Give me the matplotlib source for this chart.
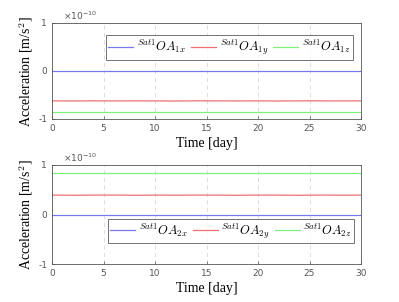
import numpy as np
import matplotlib.pyplot as plt

plt.rcParams['mathtext.fontset'] = 'cm'

# time axis (days) and accelerations, units of 1e-10 m/s^2
t = [0, 2, 4, 6, 8, 10, 12, 14, 16, 18, 20, 22, 24, 26, 28, 30]
a1x = [0.0] * len(t)
a1y = [-0.622, -0.625, -0.621, -0.624, -0.622, -0.623, -0.625, -0.621, -0.622, -0.624, -0.622, -0.625, -0.622, -0.621, -0.624, -0.622]
a1z = [-0.85] * len(t)
a2x = [0.0] * len(t)
a2y = [0.392, 0.389, 0.391, 0.393, 0.389, 0.391, 0.39, 0.392, 0.391, 0.389, 0.392, 0.391, 0.389, 0.392, 0.39, 0.391]
a2z = [0.83] * len(t)

scale = 1e-10
xticks = [0, 5, 10, 15, 20, 25, 30]

fig = plt.figure(figsize=(3.99, 3.02), dpi=100)
ax1 = fig.add_axes([52 / 399, 1 - 119 / 302, 309 / 399, 96 / 302])
ax2 = fig.add_axes([52 / 399, 1 - 264 / 302, 309 / 399, 99 / 302])

cols = ['#7878f0', '#f07070', '#80f080']

for ax, data, idx in [(ax1, (a1x, a1y, a1z), 1), (ax2, (a2x, a2y, a2z), 2)]:
    for d, c, comp in zip(data, cols, 'xyz'):
        ax.plot(t, np.array(d) * scale, color=c, lw=0.9,
                label=r'$^{Sat1}OA_{%d%s}$' % (idx, comp))
    ax.set_xlim(0, 30)
    ax.set_ylim(-1e-10, 1e-10)
    ax.set_xticks(xticks)
    ax.set_yticks([-1e-10, 0, 1e-10])
    ax.set_yticklabels(['-1', '0', '1'])
    ax.grid(True, ls=(0, (5, 4)), color='#d8d8d8', lw=0.6)
    ax.tick_params(labelsize=6.5, length=2, direction='in', colors='#555555', width=0.5)
    for s in ax.spines.values():
        s.set_color('#555555')
        s.set_linewidth(0.6)
    ax.text(0.035, 1.01, r'$\times10^{-10}$', transform=ax.transAxes, fontsize=6.5,
            color='#555555', va='bottom', ha='left', math_fontfamily='dejavusans')
    ax.set_xlabel('Time [day]', family='Liberation Serif', fontsize=10)
    ax.set_ylabel('Acceleration [m/s$^2$]', family='Liberation Serif', fontsize=10)
    ax.yaxis.set_label_coords(-0.055, 0.5)
    ax.set_axisbelow(True)

ax1.xaxis.set_label_coords(0.5, -0.19)
ax2.xaxis.set_label_coords(0.5, -0.18)

leg_kw = dict(ncol=3, fontsize=9, frameon=True, fancybox=False, edgecolor='#333333',
              handlelength=2.0, columnspacing=0.4, handletextpad=0.3, borderpad=0.2,
              borderaxespad=0.3)
l1 = ax1.legend(loc='upper right', bbox_to_anchor=(0.985, 0.91), **leg_kw)
l2 = ax2.legend(loc='lower right', bbox_to_anchor=(0.99, 0.17), **leg_kw)
for l in (l1, l2):
    l.get_frame().set_linewidth(0.6)

fig.savefig('out.png', dpi=100)
